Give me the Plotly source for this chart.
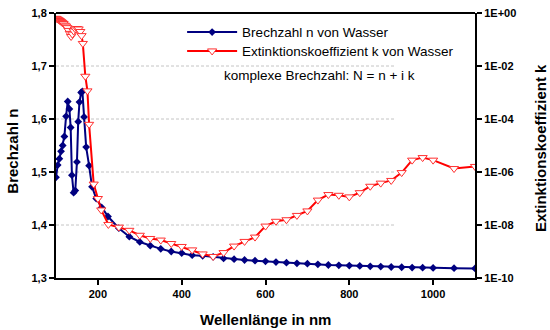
import plotly.graph_objects as go

# Brechzahl n (left axis)
n_wavelength = [100, 104, 108, 112, 116, 120, 124, 128, 132, 135, 138, 142, 146, 150, 153, 156, 160, 163, 167,
                172, 179, 186, 196, 209, 224, 250, 275, 300, 325, 350, 375, 400, 425, 450, 475, 500, 525, 550,
                575, 600, 625, 650, 675, 700, 725, 750, 775, 800, 825, 850, 875, 900, 925, 950, 975, 1000, 1050, 1100]
n_values = [1.490, 1.513, 1.525, 1.539, 1.550, 1.567, 1.605, 1.633, 1.619, 1.584, 1.494, 1.461, 1.465, 1.519,
            1.595, 1.632, 1.650, 1.652, 1.604, 1.547, 1.512, 1.472, 1.450, 1.433, 1.416, 1.394, 1.378, 1.368,
            1.361, 1.355, 1.350, 1.347, 1.343, 1.342, 1.340, 1.337, 1.3355, 1.334, 1.3327, 1.3314, 1.3301,
            1.329, 1.3277, 1.3271, 1.3258, 1.3245, 1.324, 1.3234, 1.3227, 1.3221, 1.3216, 1.3208, 1.3203,
            1.3197, 1.3195, 1.319, 1.3185, 1.318]

# Extinktionskoeffizient k (right log axis)
k_wavelength = [100, 103, 106, 109, 112, 115, 118, 121, 124, 127, 130, 133, 136, 139, 142, 146, 150, 154, 158,
                161, 164, 170, 175, 179, 190, 200, 208, 225, 250, 275, 300, 325, 350, 375, 400, 425, 450, 475,
                500, 525, 550, 575, 600, 625, 650, 675, 700, 725, 750, 775, 800, 825, 850, 875, 900, 925, 950,
                975, 1000, 1050, 1100]
k_values = [0.63, 0.60, 0.56, 0.52, 0.48, 0.44, 0.40, 0.35, 0.32, 0.28, 0.22, 0.17, 0.13, 0.16, 0.21, 0.25,
            0.26, 0.25, 0.20, 0.14, 0.071, 4.1e-3, 1.15e-3, 6.3e-5, 3.5e-7, 1.0e-7, 3.7e-8, 1.05e-8, 8.3e-9,
            6.3e-9, 4.1e-9, 3.1e-9, 2.7e-9, 2.0e-9, 1.55e-9, 1.15e-9, 8.1e-10, 6.5e-10, 9.1e-10, 1.6e-9,
            2.4e-9, 3.5e-9, 9.1e-9, 1.38e-8, 1.58e-8, 2.3e-8, 3.4e-8, 8.7e-8, 1.41e-7, 1.32e-7, 1.15e-7,
            1.66e-7, 2.9e-7, 3.8e-7, 4.8e-7, 9.5e-7, 2.8e-6, 3.5e-6, 2.8e-6, 1.35e-6, 1.62e-6]

x_ticks = [200, 400, 600, 800, 1000]
n_ticks = [1.3, 1.4, 1.5, 1.6, 1.7, 1.8]
k_ticks = [1e0, 1e-2, 1e-4, 1e-6, 1e-8, 1e-10]
k_ticktext = ["1E+00", "1E-02", "1E-04", "1E-06", "1E-08", "1E-10"]
grid_levels = [1.4, 1.5, 1.6, 1.7]

FONT = "Liberation Sans, Arial, sans-serif"

fig = go.Figure()
fig.add_trace(go.Scatter(
    x=n_wavelength, y=n_values, name="Brechzahl n von Wasser", mode="lines+markers",
    line=dict(color="#000080", width=2),
    marker=dict(symbol="diamond", size=6, color="#000080"),
    yaxis="y", legend="legend"))
fig.add_trace(go.Scatter(
    x=k_wavelength, y=k_values, name="Extinktionskoeffizient k von Wasser", mode="lines+markers",
    line=dict(color="#FF0000", width=2),
    marker=dict(symbol="triangle-down", size=8, color="white", line=dict(color="#FF3030", width=1)),
    yaxis="y2", legend="legend2"))

for g in grid_levels:
    fig.add_shape(type="line", xref="x", yref="y", x0=100, x1=910, y0=g, y1=g,
                  line=dict(color="#C4C4C4", width=1, dash="3px,2px"), layer="below")

axis_common = dict(showline=True, linecolor="black", linewidth=2, ticks="outside", ticklen=5,
                   tickwidth=1.5, tickcolor="black", showgrid=False, zeroline=False,
                   tickfont=dict(family=FONT, size=11, color="black", weight="bold"))

legend_common = dict(xanchor="left", yanchor="middle", bgcolor="rgba(0,0,0,0)", itemwidth=50,
                     font=dict(family=FONT, size=13.5, color="black"))

fig.update_layout(
    width=550, height=330,
    margin=dict(l=56, r=75, t=7, b=52),
    paper_bgcolor="white", plot_bgcolor="white",
    separators=",.",
    showlegend=True,
    legend=dict(x=0.301, y=0.927, **legend_common),
    legend2=dict(x=0.301, y=0.856, **legend_common),
    xaxis=dict(range=[100, 1100], tickvals=x_ticks, mirror=False, **axis_common),
    yaxis=dict(range=[1.3, 1.8], tickvals=n_ticks, tickformat=".1f", **axis_common),
    yaxis2=dict(type="log", range=[-10, 0], overlaying="y", side="right",
                tickvals=k_ticks, ticktext=k_ticktext, **axis_common),
)

# top border
fig.add_shape(type="line", xref="paper", yref="paper", x0=0, x1=1, y0=1, y1=1,
              line=dict(color="black", width=2))

fig.add_annotation(text="komplexe Brechzahl: N = n + i k", xref="paper", yref="paper",
                   x=0.396, y=0.764, xanchor="left", yanchor="middle", showarrow=False,
                   font=dict(family=FONT, size=13.5, color="black"))
fig.add_annotation(text="Wellenlänge in nm", xref="paper", yref="paper", x=0.5, y=-0.155,
                   xanchor="center", yanchor="middle", showarrow=False,
                   font=dict(family=FONT, size=15, color="black", weight="bold"))
fig.add_annotation(text="Brechzahl n", xref="paper", yref="paper", x=-0.103, y=0.48,
                   xanchor="center", yanchor="middle", textangle=-90, showarrow=False,
                   font=dict(family=FONT, size=15, color="black", weight="bold"))
fig.add_annotation(text="Extinktionskoeffizient k", xref="paper", yref="paper", x=1.155, y=0.49,
                   xanchor="center", yanchor="middle", textangle=-90, showarrow=False,
                   font=dict(family=FONT, size=15, color="black", weight="bold"))

fig.write_html("out.html")
